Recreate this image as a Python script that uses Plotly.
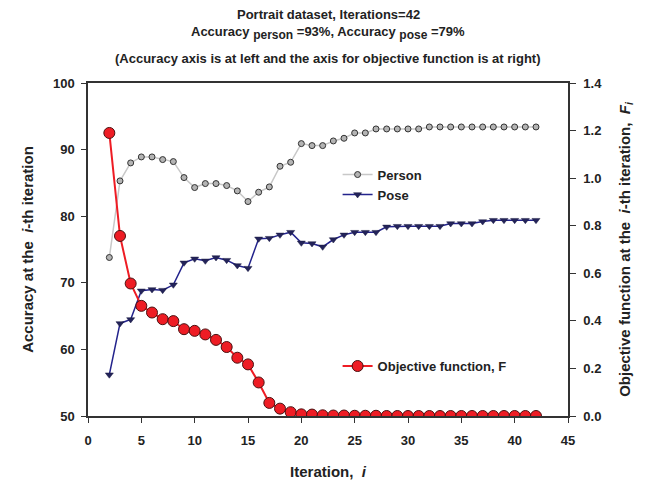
import plotly.graph_objects as go

# Iteration index
iterations = list(range(2, 43))

# Accuracy of person detection (%) per iteration
person_acc = [73.8, 85.3, 88.0, 88.9, 88.9, 88.5, 88.2, 85.8, 84.3, 84.9,
              84.9, 84.6, 83.8, 82.2, 83.6, 84.4, 87.5, 88.1, 90.9, 90.6,
              90.6, 91.3, 91.7, 92.5, 92.5, 93.1, 93.1, 93.1, 93.1, 93.1,
              93.4, 93.4, 93.4, 93.4, 93.4, 93.4, 93.4, 93.4, 93.4, 93.4,
              93.4]

# Accuracy of pose estimation (%) per iteration
pose_acc = [56.2, 63.9, 64.5, 68.8, 69.0, 68.9, 69.7, 73.0, 73.6, 73.3,
            73.8, 73.4, 72.6, 72.2, 76.6, 76.7, 77.2, 77.6, 76.0, 75.9,
            75.4, 76.5, 77.2, 77.6, 77.6, 77.6, 78.4, 78.5, 78.5, 78.5,
            78.5, 78.5, 78.9, 78.9, 78.9, 79.2, 79.4, 79.4, 79.4, 79.4,
            79.4]

# Objective function value F_i per iteration
objective = [1.19, 0.757, 0.557, 0.463, 0.435, 0.407, 0.399, 0.365, 0.358, 0.343,
             0.320, 0.290, 0.245, 0.217, 0.141, 0.055, 0.031, 0.016, 0.007, 0.006,
             0.003, 0.002, 0.002, 0.001, 0.001, 0.001, 0.0, 0.0, 0.0, 0.0,
             0.0, 0.0, 0.0, 0.0, 0.0, 0.0, 0.0, 0.0, 0.0, 0.0,
             0.0]

x_ticks = [0, 5, 10, 15, 20, 25, 30, 35, 40, 45]
left_ticks = [50, 60, 70, 80, 90, 100]
right_ticks = [0.0, 0.2, 0.4, 0.6, 0.8, 1.0, 1.2, 1.4]

SUB = "<sub><span style='font-size:12px'>{}</span></sub>"
title_lines = [
    "<b>Portrait dataset, Iterations=42</b>",
    "<b>Accuracy " + SUB.format("person") + " =93%, Accuracy " + SUB.format("pose") + " =79%</b>",
    "<b>(Accuracy axis is at left and the axis for objective function is at right)</b>",
]

FONT = "Liberation Sans, Arial, sans-serif"
INK = "#222222"

fig = go.Figure()

fig.add_trace(go.Scatter(
    x=iterations, y=person_acc, name="<b>Person</b>", mode="lines+markers",
    line=dict(color="#c8c8c8", width=1.5),
    marker=dict(symbol="circle", size=6, color="#b4b4b4",
                line=dict(color="#333333", width=1)),
    legend="legend",
))
fig.add_trace(go.Scatter(
    x=iterations, y=pose_acc, name="<b>Pose</b>", mode="lines+markers",
    line=dict(color="#23238c", width=1.5),
    marker=dict(symbol="triangle-down", size=7, color="#23235a",
                line=dict(color="#1a1a40", width=0.5)),
    legend="legend",
))
fig.add_trace(go.Scatter(
    x=iterations, y=objective, name="<b>Objective function, F</b>", mode="lines+markers",
    line=dict(color="#ee1c24", width=2),
    marker=dict(symbol="circle", size=11, color="#ee1c24",
                line=dict(color="#4a1010", width=1)),
    yaxis="y2", legend="legend2",
))

axis_font = dict(family=FONT, size=13, color=INK)
title_font = dict(family=FONT, size=15, color=INK)

# three-line heading above the plot area
for text, ypos in zip(title_lines, [1.207, 1.150, 1.075]):
    fig.add_annotation(
        text=text, xref="paper", yref="paper", x=0.5, y=ypos,
        xanchor="center", yanchor="middle", showarrow=False,
        font=dict(family=FONT, size=13, color=INK),
    )

fig.update_layout(
    width=656, height=480,
    margin=dict(l=88, r=88, t=83, b=64),
    paper_bgcolor="white", plot_bgcolor="white",
    font=dict(family=FONT, color=INK),
    xaxis=dict(
        range=[0, 45], tickvals=x_ticks, ticktext=[f"<b>{v}</b>" for v in x_ticks],
        showline=True, linecolor="#333333", linewidth=1.5, mirror=True,
        ticks="outside", ticklen=5, tickcolor="#333333", ticklabelstandoff=7,
        showgrid=False, zeroline=False, tickfont=axis_font, automargin=False,
        title=dict(text="<b>Iteration,  <i>i</i></b>", font=title_font, standoff=20),
    ),
    yaxis=dict(
        range=[50, 100], tickvals=left_ticks, ticktext=[f"<b>{v}</b>" for v in left_ticks],
        showline=True, linecolor="#333333", linewidth=1.5,
        ticks="outside", ticklen=5, tickcolor="#333333", ticklabelstandoff=4,
        showgrid=False, zeroline=False, tickfont=axis_font, automargin=False,
        title=dict(text="<b>Accuracy at the  <i>i</i>-th iteration</b>", font=title_font, standoff=16),
    ),
    yaxis2=dict(
        range=[0, 1.4], tickvals=right_ticks, ticktext=[f"<b>{v:.1f}</b>" for v in right_ticks],
        overlaying="y", side="right",
        showline=True, linecolor="#333333", linewidth=1.5,
        ticks="outside", ticklen=6, tickcolor="#333333", ticklabelstandoff=5,
        showgrid=False, zeroline=False, tickfont=axis_font, automargin=False,
        title=dict(text="<b>Objective function at the  <i>i</i>-th iteration,  <i>F<sub>i</sub></i></b>",
                   font=title_font, standoff=18),
    ),
    legend=dict(
        x=0.52, y=0.77, xanchor="left", yanchor="top",
        bgcolor="rgba(0,0,0,0)", font=dict(family=FONT, size=13, color=INK),
        tracegroupgap=0, itemwidth=30,
    ),
    legend2=dict(
        x=0.52, y=0.195, xanchor="left", yanchor="top",
        bgcolor="rgba(0,0,0,0)", font=dict(family=FONT, size=13, color=INK),
        itemwidth=30,
    ),
)

fig.write_html("out.html")
